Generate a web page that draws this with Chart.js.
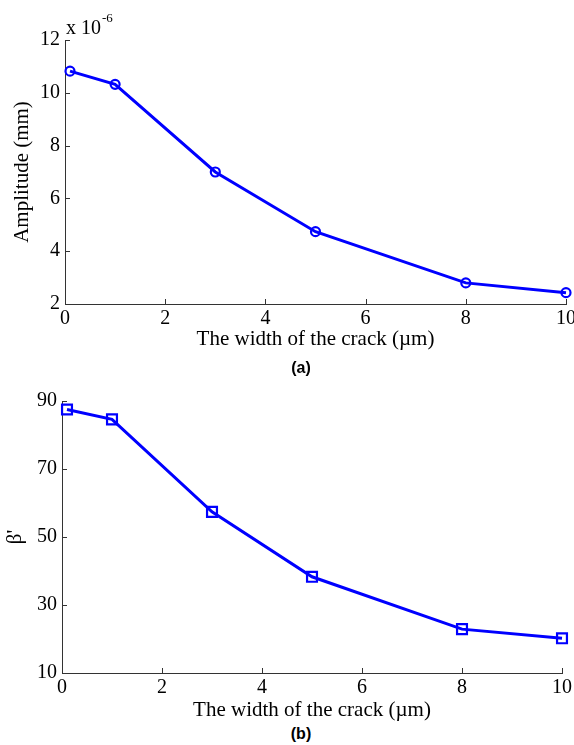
<!DOCTYPE html>
<html>
<head>
<meta charset="utf-8">
<script src="https://cdn.jsdelivr.net/npm/chart.js@4.4.1/dist/chart.umd.min.js"></script>
<style>
  html, body { margin: 0; padding: 0; background: #fff; }
  body { width: 574px; height: 745px; position: relative; overflow: hidden; }
  .panel { position: absolute; left: 0; width: 574px; }
  .caption { position: absolute; width: 574px; left: 0; text-align: center;
             font: bold 16px "Liberation Sans", Arial, sans-serif; color: #000; z-index: 2; }
</style>
</head>
<body>
<div class="panel" style="top:0;height:352px"><canvas id="ampChart" width="574" height="352"></canvas></div>
<div class="panel" style="top:360px;height:363px"><canvas id="betaChart" width="574" height="363"></canvas></div>
<div class="caption" style="left:14px;top:359px">(a)</div>
<div class="caption" style="left:14px;top:725px">(b)</div>
<script>
// Crack width (µm) at each measurement
const crackWidth = [0.1, 1, 3, 5, 8, 10];
// Vibration amplitude (×10^-6 mm)
const amplitude = [10.82, 10.32, 7.0, 4.74, 2.8, 2.43];
// β' parameter
const betaPrime = [87.5, 84.6, 57.4, 38.3, 22.9, 20.2];
// Axis tick values
const xTicks = [0, 2, 4, 6, 8, 10];
const ampTicks = [2, 4, 6, 8, 10, 12];
const betaTicks = [10, 30, 50, 70, 90];

const SERIF = '"Liberation Serif", "Times New Roman", serif';
const AXIS_COLOR = '#333333';
const LINE_BLUE = '#0000ff';
const TICK_SIZE = 20;
const TITLE_SIZE = 21;

function pairs(xs, ys) { return xs.map((x, i) => ({ x: x, y: ys[i] })); }

// Short tick marks pointing into the plot area
const inwardTicks = {
  id: 'inwardTicks',
  beforeDatasetsDraw(chart) {
    const { ctx, chartArea } = chart;
    const xs = chart.scales.x, ys = chart.scales.y;
    ctx.save();
    ctx.strokeStyle = AXIS_COLOR;
    ctx.lineWidth = 1;
    ctx.beginPath();
    xs.ticks.forEach(t => {
      const px = Math.round(xs.getPixelForValue(t.value)) + 0.5;
      ctx.moveTo(px, chartArea.bottom);
      ctx.lineTo(px, chartArea.bottom - 5);
    });
    ys.ticks.forEach(t => {
      const py = Math.round(ys.getPixelForValue(t.value)) + 0.5;
      ctx.moveTo(chartArea.left, py);
      ctx.lineTo(chartArea.left + 5, py);
    });
    ctx.stroke();
    ctx.restore();
  }
};

// Exponent label above the amplitude axis
const exponentLabel = {
  id: 'exponentLabel',
  afterDraw(chart, args, opts) {
    if (!opts.show) return;
    const { ctx, chartArea } = chart;
    ctx.save();
    ctx.fillStyle = '#000';
    ctx.textBaseline = 'alphabetic';
    ctx.textAlign = 'left';
    ctx.font = TICK_SIZE + 'px ' + SERIF;
    const base = 'x 10';
    const x0 = chartArea.left + 1;
    ctx.fillText(base, x0, 34);
    const w = ctx.measureText(base).width;
    ctx.font = '13px ' + SERIF;
    ctx.fillText('-6', x0 + w + 1, 22);
    ctx.restore();
  }
};

function makeChart(id, values, ticks, yTitle, pointStyle, radius, geom, showExp) {
  const tickValues = ticks.slice();
  return new Chart(document.getElementById(id), {
    type: 'line',
    data: {
      datasets: [{
        data: pairs(crackWidth, values),
        borderColor: LINE_BLUE,
        borderWidth: 3,
        pointStyle: pointStyle,
        pointRadius: radius,
        pointBorderWidth: 2.2,
        pointBorderColor: LINE_BLUE,
        pointBackgroundColor: 'rgba(0,0,0,0)',
        tension: 0,
        clip: false
      }]
    },
    options: {
      responsive: false,
      animation: false,
      events: [],
      layout: { padding: { top: geom.top, right: geom.right, left: 0, bottom: 0 } },
      plugins: { legend: { display: false }, tooltip: { enabled: false },
                 exponentLabel: { show: showExp } },
      scales: {
        x: {
          type: 'linear',
          min: 0, max: 10,
          grid: { display: false, drawTicks: false },
          border: { display: true, color: AXIS_COLOR, width: 1 },
          afterBuildTicks: s => { s.ticks = xTicks.map(v => ({ value: v })); },
          ticks: { color: '#000', padding: 3, maxRotation: 0, font: { family: SERIF, size: TICK_SIZE } },
          title: { display: true, text: 'The width of the crack (µm)', color: '#000',
                   padding: { top: 0, bottom: 0 }, font: { family: SERIF, size: TITLE_SIZE } },
          afterFit: s => { s.height = geom.xHeight; s.paddingLeft = 0; s.paddingRight = 0; }
        },
        y: {
          type: 'linear',
          min: tickValues[0], max: tickValues[tickValues.length - 1],
          grid: { display: false, drawTicks: false },
          border: { display: true, color: AXIS_COLOR, width: 1 },
          afterBuildTicks: s => { s.ticks = tickValues.map(v => ({ value: v })); },
          ticks: { color: '#000', padding: 5, font: { family: SERIF, size: TICK_SIZE } },
          title: { display: true, text: yTitle, color: '#000',
                   padding: { top: geom.yTitlePad, bottom: 0 }, font: { family: SERIF, size: TITLE_SIZE } },
          afterFit: s => { s.width = geom.yWidth; s.paddingTop = 0; s.paddingBottom = 0; }
        }
      }
    },
    plugins: [inwardTicks, exponentLabel]
  });
}

makeChart('ampChart', amplitude, ampTicks, 'Amplitude (mm)', 'circle', 4.5,
  { top: 40, right: 8, xHeight: 48, yWidth: 65, yTitlePad: 10 }, true);
makeChart('betaChart', betaPrime, betaTicks, "β'", 'rect', 7,
  { top: 41, right: 12, xHeight: 50, yWidth: 62, yTitlePad: 3 }, false);
</script>
</body>
</html>
